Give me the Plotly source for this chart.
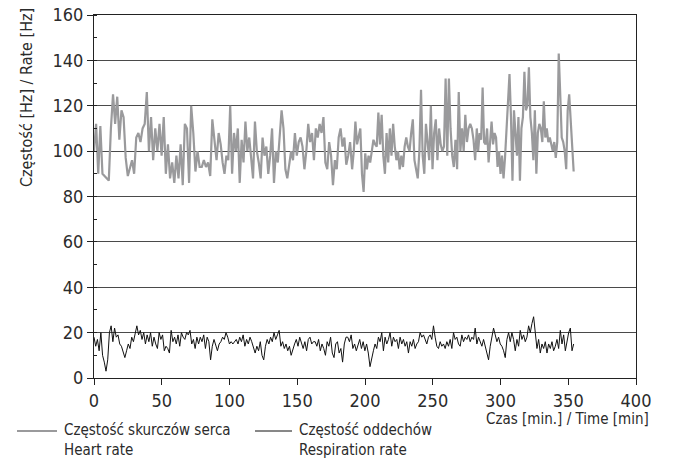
import numpy as np
import plotly.graph_objects as go

# ---- data ----
hr_a = [100,112,90,111,90,89,88,87,110,125,112,124,105,118,115,97,89,92,96,90,
        106,108,104,110,112,126,100,115,96,110,100,112,98,115,90,103,88,95,86,98,
        88,103,85,112,110,86,120,108,91,100,93,93,96,93,95,89,114,105,96,108]
hr_b = [103,95,90,98,96,120,90,108,100,110,86,105,95,113,100,106,96,88,113,100,
        95,88,106,98,102,90,98,110,86,100,95,108,118,110,92,88,95,100,96,108,
        98,104,106,102,92,100,112,104,108,96,110,106,112,108,115,95,92,104,98,85,
        96,92,106,110,102,106,94,98,104]
hr_c = [92,100,113,103,106,110,90,82,99,92,98,95,100,105,103,102,117,103,116,98,
        90,108,95,110,98,112,102,96,100,92,98,93,102,106,102,100,108,114,96,92,
        88,100,127,98,90,112,105,96,120,92,108,114,96,110,103,100,102,132,98,132,
        110,98,93,105,92,126,100,110,100,116,104,110,112,110,105,96,110]
hr_d = [100,108,105,128,104,103,110,95,104,113,103,108,106,93,100,90,98,88,97,110,
        126,134,115,87,118,110,98,115,87,110,115,135,118,120,137,115,108,96,118,90,
        108,112,110,104,122,106,110,104,106,103,100,104,97,104,143,125,106,104,100,92,
        118,125,114,100,91]
hr_spans = [(0, 92), (93.5, 189), (190.5, 282.5), (283.5, 354)]

rr_a = [18,14,17,12,20,10,7,3,8,20, 23,16,22,18,19,15,14,11,9,12,
        15,13,18,16,20,23,19,21,17,20, 15,19,16,20,14,18,15,13,20,17,
        19,12,14,13,11,21,16,18,15,19, 14,20,18,17,20,19,21,15,17,13,
        18,15,18,16,19,13,18,16,8,14, 17,14,12,15,16,18,17,20,18,15,
        16,15,16,17,15,18,16,19,14,17, 15,18,16,13,11,14,12,16,10,8,
        14,17,15,18,16,20,17,19,21,14, 16,13,15,12,14,10,13,15,17,14,
        18,15,13,16,12,17,18,15,16,16, 14,17,12,15,13,10,16,14,18,11,
        9,15,16,11,13,7,15,18,18,16, 19,13,15,12,15,17,13,16,12,15,
        11,5]
rr_b = [12,15,13,18,16,20,12,18,15,17,20,14,18,16,17,13,18,15,17,14,
        16,11,16,14,17,13,15,16,20,18,19,17,15,18,19,17,23,18,14,13,
        16,14,15,13,16,14,17,13,20,17,18,15,14,19,16,18,17,19,16,18,
        17,22,15,18,16,14,17,14,11,8,14,18,22,19,16,18,15,14,12,9,
        17,20,16,20,17,12,17,14,21,17,19,16,18,23,20,24,27,20,13,17,
        11,15,13,16,11,15,13,16,12,14,17,13,21,15,19,12,16,20,22,12,15]
rr_spans = [(0, 203.7), (206.2, 354)]

x_ticks = [0, 50, 100, 150, 200, 250, 300, 350, 400]
y_ticks = [0, 20, 40, 60, 80, 100, 120, 140, 160]

x_title = "Czas [min.] / Time [min]"
y_title = "Częstość [Hz] / Rate [Hz]"
name_hr = ("Częstość skurczów serca", "Heart rate")
name_rr = ("Częstość oddechów", "Respiration rate")


def build(segments, spans):
    t, v = [], []
    for seg, (a, b) in zip(segments, spans):
        t.extend(np.linspace(a, b, len(seg)).tolist())
        v.extend(seg)
    return t, v


hr_t, hr_v = build([hr_a, hr_b, hr_c, hr_d], hr_spans)
rr_t, rr_v = build([rr_a, rr_b], rr_spans)

FONT = "DejaVu Sans Condensed, Liberation Sans Narrow, sans-serif"
TXT = "#2b2b2b"
HR_COL = "#9a9a9c"

fig = go.Figure()
fig.add_trace(go.Scatter(x=hr_t, y=hr_v, mode="lines",
                         line=dict(color=HR_COL, width=2.2),
                         name=name_hr[0] + " / " + name_hr[1], showlegend=False))
fig.add_trace(go.Scatter(x=rr_t, y=rr_v, mode="lines",
                         line=dict(color="#111111", width=1),
                         name=name_rr[0] + " / " + name_rr[1], showlegend=False))

W, H = 674, 459
L, R, T, B = 94, 38, 15, 81
pw, ph = W - L - R, H - T - B


def px2x(px):
    return (px - L) / pw


def py2y(py):
    return (H - B - py) / ph


fig.update_layout(
    width=W, height=H,
    margin=dict(l=L, r=R, t=T, b=B, autoexpand=False),
    paper_bgcolor="white", plot_bgcolor="white",
    font=dict(family=FONT, color=TXT, size=16),
    xaxis=dict(range=[0, 400], tickvals=x_ticks, ticks="outside", ticklen=6,
               tickcolor="#222", showgrid=False, zeroline=False, automargin=False,
               showline=True, linecolor="#222", linewidth=1, mirror=True,
               tickfont=dict(size=18, family=FONT, color=TXT)),
    yaxis=dict(range=[0, 160], tickvals=y_ticks, ticks="outside", ticklen=6,
               tickcolor="#222", showgrid=True, gridcolor="#4a4a4a", gridwidth=1,
               zeroline=False, showline=True, linecolor="#222", linewidth=1,
               mirror=True, automargin=False,
               tickfont=dict(size=18, family=FONT, color=TXT),
               minor=dict(dtick=10, ticks="inside", ticklen=3,
                          tickcolor="#222", showgrid=False)),
)

ann = []
ann.append(dict(text=x_title, x=px2x(651), y=py2y(419), xref="paper", yref="paper",
                xanchor="right", yanchor="middle", showarrow=False,
                font=dict(size=15, family=FONT, color=TXT)))
ann.append(dict(text=y_title, x=px2x(27), y=py2y(98), xref="paper", yref="paper",
                xanchor="center", yanchor="middle", textangle=-90, showarrow=False,
                font=dict(size=16, family=FONT, color=TXT)))

shapes = []
legend_items = [(name_hr, HR_COL, 2.2, 17, 57, 62), (name_rr, "#111111", 1, 255, 292, 297)]
for (l1, l2), col, wdt, x0, x1, xt in legend_items:
    shapes.append(dict(type="line", xref="paper", yref="paper",
                       x0=px2x(x0), x1=px2x(x1), y0=py2y(431), y1=py2y(431),
                       line=dict(color=col, width=wdt)))
    ann.append(dict(text=l1 + "<br>" + l2, x=px2x(xt), y=py2y(439.5),
                    xref="paper", yref="paper", align="left",
                    xanchor="left", yanchor="middle", showarrow=False,
                    font=dict(size=15, family=FONT, color=TXT)))

fig.update_layout(annotations=ann, shapes=shapes)
fig.write_html("out.html", config={"displayModeBar": False},
               post_script="document.body.style.margin='0';"
                           "document.body.style.padding='0';")
